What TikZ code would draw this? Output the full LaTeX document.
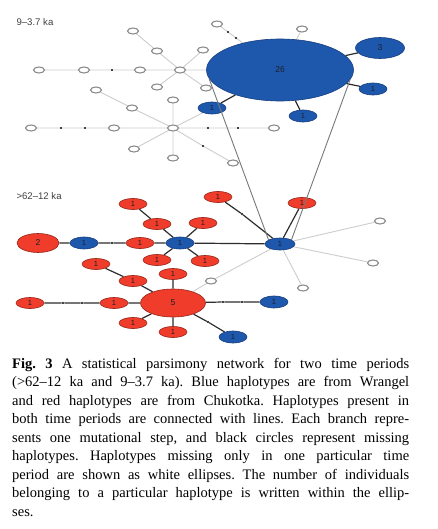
\documentclass[tikz,border=0pt]{standalone}
\usepackage{fontspec}
\setmainfont{Liberation Serif}
\setsansfont{Liberation Sans}
\usetikzlibrary{shapes.geometric,backgrounds}
\definecolor{blueF}{RGB}{30,88,172}
\definecolor{blueD}{RGB}{22,60,125}
\definecolor{redF}{RGB}{240,60,42}
\definecolor{redD}{RGB}{150,38,25}
\definecolor{whD}{RGB}{140,140,140}
\definecolor{lightL}{RGB}{205,205,205}
\definecolor{darkL}{RGB}{45,45,45}
\definecolor{linkL}{RGB}{120,120,120}
\definecolor{numC}{RGB}{30,30,40}
\tikzset{
  hap/.style={ellipse,inner sep=0pt,line width=0.6pt,font=\sffamily\fontsize{7.5}{8}\selectfont,text=numC},
  bh/.style={hap,fill=blueF,draw=blueD,minimum width=28pt,minimum height=12pt},
  rh/.style={hap,fill=redF,draw=redD,minimum width=28pt,minimum height=11pt},
  wh/.style={ellipse,inner sep=0pt,draw=whD,fill=white,line width=1.1pt,minimum width=11pt,minimum height=6pt},
  mdot/.style={circle,fill=black,inner sep=0pt,minimum size=2.2pt},
  lt/.style={draw=lightL,line width=0.9pt},
  dk/.style={draw=darkL,line width=1.2pt},
  lk/.style={draw=linkL,line width=0.9pt},
  period/.style={font=\sffamily\fontsize{9.6}{10}\selectfont,text=black!75,anchor=west}
}
\begin{document}
\begin{tikzpicture}[x=1pt,y=-1pt]
\useasboundingbox (0,0) rectangle (438,529);
\begin{scope}[on background layer]
\fill[white] (0,0) rectangle (438,529);
\end{scope}
% ---------- top network: 9-3.7 ka
\node[period] (lab1) at (13,22) {9–3.7 ka};
\node[wh] (a1) at (133,31) {};
\node[wh] (a2) at (157,51) {};
\node[wh] (a3) at (203,50) {};
\node[wh] (a4) at (217,24) {};
\node[wh] (a5) at (302,29) {};
\node[wh] (a6) at (39,70) {};
\node[wh] (a7) at (84,70) {};
\node[mdot] (d1) at (112,70) {};
\node[wh] (a8) at (140,70) {};
\node[wh] (hA) at (180,70) {};
\node[wh] (a9) at (157,87) {};
\node[wh] (a10) at (206,88) {};
\node[wh] (a11) at (96,90) {};
\node[wh] (a12) at (132,108) {};
\node[wh] (a13) at (173,100) {};
\node[wh] (hB) at (173,128) {};
\node[wh] (a14) at (31,128) {};
\node[mdot] (d2) at (61,128) {};
\node[mdot] (d3) at (85,128) {};
\node[wh] (a15) at (114,128) {};
\node[mdot] (d4) at (208,128) {};
\node[mdot] (d5) at (238,128) {};
\node[wh] (a16) at (274,128) {};
\node[wh] (a17) at (134,149) {};
\node[wh] (a18) at (173,158) {};
\node[mdot] (d6) at (203,146) {};
\node[wh] (a19) at (233,163) {};
\node[mdot] (d7) at (228,32) {};
\node[mdot] (d8) at (236,38) {};
\node[bh,minimum width=147pt,minimum height=62pt,font=\sffamily\fontsize{8.5}{9}\selectfont] (t26) at (280,70) {26};
\node[bh,minimum width=49pt,minimum height=21pt,font=\sffamily\fontsize{8.5}{9}\selectfont] (t3) at (380,48) {3};
\node[bh] (tb1) at (212,108) {1};
\node[bh] (tb2) at (373,89) {1};
\node[bh] (tb3) at (303,116) {1};
\begin{scope}[on background layer]
\draw[lt] (hA)--(a2) (a2)--(a1) (hA)--(a3) (hA)--(a8) (a8)--(d1) (d1)--(a7) (a7)--(a6)
  (hA)--(a9) (hA)--(a10) (hA)--(t26)
  (hB)--(a12) (a12)--(a11) (hB)--(a13) (hB)--(tb1) (hB)--(a15) (a15)--(d3) (d3)--(d2) (d2)--(a14)
  (hB)--(d4) (d4)--(d5) (d5)--(a16) (hB)--(a17) (hB)--(a18) (hB)--(d6) (d6)--(a19)
  (t26)--(d8) (d8)--(d7) (d7)--(a4) (t26)--(a5);
\draw[dk] (tb1)--(t26) (t26)--(t3) (t26)--(tb2) (t26)--(tb3);
\end{scope}
% ---------- bottom network: >62-12 ka
\node[period] (lab2) at (13,196) {>62–12 ka};
\node[rh] (r1) at (133,204) {1};
\node[rh] (r2) at (157,224) {1};
\node[rh] (r3) at (203,223) {1};
\node[rh] (r4) at (218,197) {1};
\node[rh] (r5) at (302,203) {1};
\node[rh,minimum width=42pt,minimum height=19pt,font=\sffamily\fontsize{8.5}{9}\selectfont] (rtwo) at (38,243) {2};
\node[bh] (b1) at (84,243) {1};
\node[mdot] (e1) at (112,243) {};
\node[rh] (r6) at (140,243) {1};
\node[bh] (hC) at (180,243) {1};
\node[bh,minimum width=30pt] (hD) at (280,244) {1};
\node[rh] (r7) at (157,260) {1};
\node[rh] (r8) at (205,261) {1};
\node[rh] (r9) at (96,264) {1};
\node[rh] (r10) at (173,274) {1};
\node[rh] (r11) at (133,281) {1};
\node[wh] (w1) at (211,281) {};
\node[wh] (w2) at (380,221) {};
\node[wh] (w3) at (373,263) {};
\node[wh] (w4) at (303,288) {};
\node[rh] (r12) at (30,303) {1};
\node[mdot] (e2) at (63,303) {};
\node[mdot] (e3) at (82,303) {};
\node[rh] (r13) at (114,303) {1};
\node[rh,minimum width=65pt,minimum height=28pt,font=\sffamily\fontsize{8.5}{9}\selectfont] (rfive) at (173,303) {5};
\node[mdot] (e4) at (223,302) {};
\node[mdot] (e5) at (242,302) {};
\node[bh] (b2) at (274,302) {1};
\node[rh] (r14) at (133,323) {1};
\node[rh] (r15) at (173,332) {1};
\node[mdot] (e6) at (208,322) {};
\node[bh] (b3) at (233,337) {1};
\node[mdot] (e7) at (242,214) {};
\begin{scope}[on background layer]
\draw[lt] (hD)--(w2) (hD)--(w3) (hD)--(w4) (hD)--(w1) (w1)--(rfive);
\draw[dk] (rtwo)--(b1) (b1)--(e1) (e1)--(r6) (r6)--(hC) (hC)--(hD)
  (hC)--(r2) (r2)--(r1) (hC)--(r3) (hC)--(r7) (hC)--(r8)
  (hD)--(e7) (e7)--(r4) (hD)--(r5)
  (rfive)--(r10) (rfive)--(r11) (r11)--(r9) (rfive)--(r13) (r13)--(e3) (e3)--(e2) (e2)--(r12)
  (rfive)--(r14) (rfive)--(r15) (rfive)--(e4) (e4)--(e5) (e5)--(b2) (rfive)--(e6) (e6)--(b3);
\end{scope}
% ---------- links between periods
\draw[lk] (t26.187)--(hD.160);
\draw[lk] (t26.-8)--(hD.20);
% ---------- caption
\node[anchor=north west,inner sep=0pt,text width=397pt,align=justify,
  font=\fontsize{14.5}{18.5}\selectfont] (cap) at (12,358)
{\frenchspacing\tolerance=10000\hyphenpenalty=10000\textbf{Fig. 3} A statistical parsimony network for two time periods\linebreak
(>62–12 ka and 9–3.7 ka). Blue haplotypes are from Wrangel\linebreak
and red haplotypes are from Chukotka. Haplotypes present in\linebreak
both time periods are connected with lines. Each branch repre-\linebreak
sents one mutational step, and black circles represent missing\linebreak
haplotypes. Haplotypes missing only in one particular time\linebreak
period are shown as white ellipses. The number of individuals\linebreak
belonging to a particular haplotype is written within the ellip-\linebreak
ses.};
\end{tikzpicture}
\end{document}
